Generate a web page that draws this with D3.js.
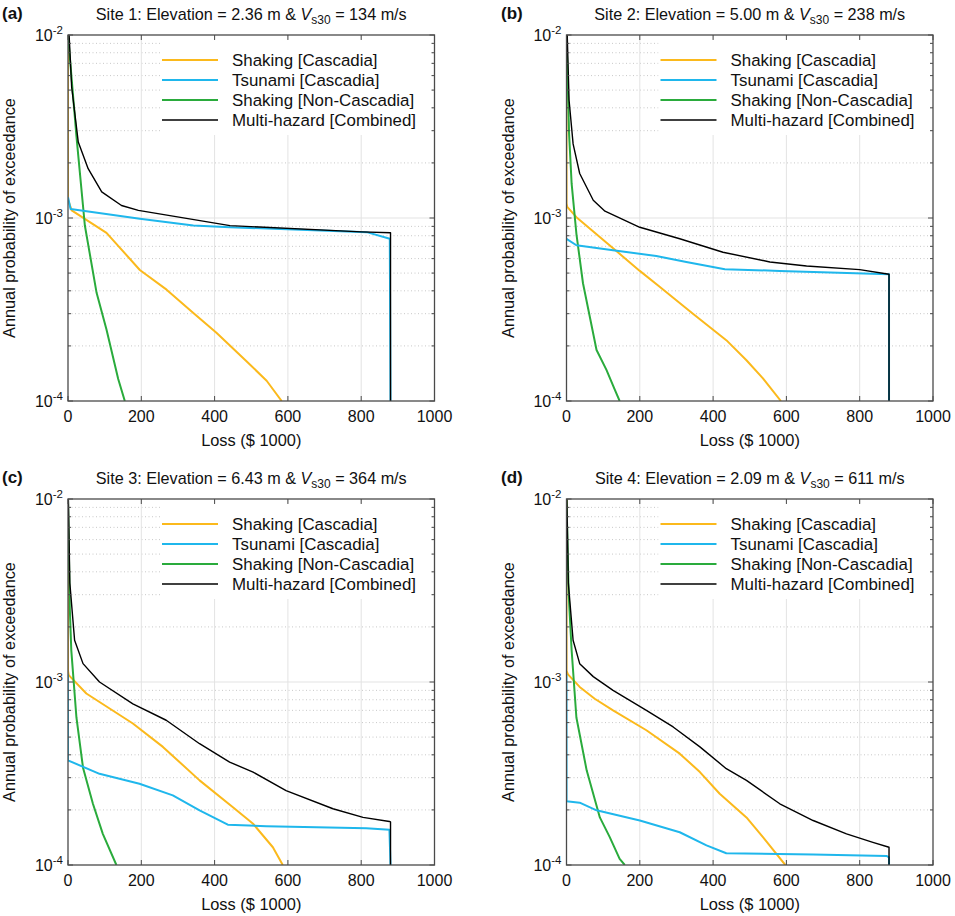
<!DOCTYPE html>
<html>
<head>
<meta charset="utf-8">
<script src="https://cdn.jsdelivr.net/npm/d3@7"></script>
<style>
  body { margin: 0; background: #fff; }
  svg { font-family: "Liberation Sans", Arial, Helvetica, sans-serif; }
</style>
</head>
<body>
<svg id="chart" width="955" height="916"></svg>
<script>
// loss in $1000, probability = annual probability of exceedance
const seriesNames = ["Shaking [Cascadia]", "Tsunami [Cascadia]", "Shaking [Non-Cascadia]", "Multi-hazard [Combined]"];
const seriesColors = ["#fbb91c", "#1fb7ec", "#2aab3c", "#000000"];
const seriesWidths = [2, 2, 2, 1.4];

const panelLetters = ["(a)", "(b)", "(c)", "(d)"];
const siteNames = ["Site 1", "Site 2", "Site 3", "Site 4"];
const elevations = ["2.36", "5.00", "6.43", "2.09"];
const vs30 = ["134", "238", "364", "611"];

const xTicks = [0, 200, 400, 600, 800, 1000];
const yTicks = [1e-2, 1e-3, 1e-4];
const yTickExp = ["-2", "-3", "-4"];

// Site 1
const site1Shaking = [[0,1e-2],[0,1.26e-3],[10,1.1e-3],[105,8.3e-4],[196,5.2e-4],[269,4.06e-4],[342,3.03e-4],[405,2.36e-4],[487,1.65e-4],[542,1.29e-4],[583,1e-4]];
const site1Tsunami = [[0,1.3e-3],[7,1.12e-3],[196,9.9e-4],[342,9.1e-4],[442,8.9e-4],[815,8.37e-4],[878,7.7e-4],[880,1e-4]];
const site1NonCas = [[0,1e-2],[23,2.8e-3],[46,9.1e-4],[78,3.9e-4],[105,2.46e-4],[137,1.32e-4],[155,1e-4]];
const site1Combined = [[3,1e-2],[10,5.2e-3],[28,2.6e-3],[55,1.86e-3],[92,1.39e-3],[146,1.17e-3],[192,1.1e-3],[442,9.08e-4],[801,8.4e-4],[880,8.3e-4],[880,1e-4]];

// Site 2
const site2Shaking = [[0,1e-2],[0,1.2e-3],[2,1.15e-3],[27,1.01e-3],[136,6.6e-4],[200,5.14e-4],[255,4.2e-4],[345,3.0e-4],[436,2.15e-4],[491,1.67e-4],[536,1.33e-4],[585,1e-4]];
const site2Tsunami = [[0,7.7e-4],[27,7.1e-4],[127,6.67e-4],[245,6.2e-4],[327,5.75e-4],[432,5.25e-4],[582,5.14e-4],[880,4.93e-4],[880,1e-4]];
const site2NonCas = [[0,1e-2],[7,2.9e-3],[14,1.54e-3],[27,8.2e-4],[45,4.4e-4],[82,1.9e-4],[109,1.48e-4],[132,1.15e-4],[145,1e-4]];
const site2Combined = [[2,1e-2],[7,4.4e-3],[18,2.54e-3],[36,1.75e-3],[73,1.25e-3],[105,1.09e-3],[200,8.9e-4],[309,7.7e-4],[427,6.5e-4],[555,5.75e-4],[655,5.47e-4],[800,5.22e-4],[880,4.93e-4],[880,1e-4]];

// Site 3
const site3Shaking = [[0,1e-2],[0,1.15e-3],[2,1.09e-3],[50,8.65e-4],[177,5.93e-4],[259,4.42e-4],[359,2.9e-4],[450,2.07e-4],[505,1.68e-4],[559,1.25e-4],[586,1e-4]];
const site3Tsunami = [[0,1.1e-3],[0,3.73e-4],[86,3.15e-4],[195,2.78e-4],[286,2.4e-4],[359,1.99e-4],[436,1.66e-4],[541,1.63e-4],[814,1.59e-4],[877,1.56e-4],[880,1e-4]];
const site3NonCas = [[0,1e-2],[5,2.5e-3],[9,1.49e-3],[23,6.4e-4],[41,3.4e-4],[68,2.16e-4],[95,1.48e-4],[132,1e-4]];
const site3Combined = [[1,1e-2],[5,3.47e-3],[18,1.69e-3],[41,1.26e-3],[86,1e-3],[177,7.6e-4],[268,6.18e-4],[359,4.6e-4],[441,3.65e-4],[505,3.22e-4],[595,2.55e-4],[723,2.03e-4],[805,1.82e-4],[877,1.73e-4],[880,1.72e-4],[880,1e-4]];

// Site 4
const site4Shaking = [[0,1e-2],[0,1.15e-3],[4,1.1e-3],[36,9.4e-4],[77,8.1e-4],[127,7.0e-4],[218,5.45e-4],[309,4.06e-4],[364,3.22e-4],[418,2.45e-4],[491,1.82e-4],[536,1.42e-4],[597,1e-4]];
const site4Tsunami = [[0,1.1e-3],[0,2.23e-4],[36,2.19e-4],[82,1.99e-4],[200,1.75e-4],[309,1.51e-4],[382,1.28e-4],[436,1.16e-4],[673,1.14e-4],[873,1.12e-4],[880,1.1e-4],[880,1e-4]];
const site4NonCas = [[0,1e-2],[6,3e-3],[14,1.49e-3],[27,6.4e-4],[55,3.29e-4],[91,1.82e-4],[118,1.42e-4],[145,1.08e-4],[159,1e-4]];
const site4Combined = [[1,1e-2],[5,3.47e-3],[18,1.69e-3],[36,1.26e-3],[73,1.07e-3],[127,9.0e-4],[218,7.0e-4],[291,5.68e-4],[364,4.42e-4],[436,3.36e-4],[491,2.9e-4],[582,2.16e-4],[673,1.75e-4],[764,1.48e-4],[836,1.33e-4],[880,1.25e-4],[880,1e-4]];

const sites = [
    [site1Shaking, site1Tsunami, site1NonCas, site1Combined],
    [site2Shaking, site2Tsunami, site2NonCas, site2Combined],
    [site3Shaking, site3Tsunami, site3NonCas, site3Combined],
    [site4Shaking, site4Tsunami, site4NonCas, site4Combined]
];

// layout
const plotW = 366.5;
const plotH = 366;
const plotLefts = [68, 566.5];
const plotTops = [35, 499];
const axisColor = "#4a4a4a";
const fs = 16;

const svg = d3.select("#chart");

const x = d3.scaleLinear().domain([0, 1000]).range([0, plotW]);
const y = d3.scaleLog().domain([1e-4, 1e-2]).range([plotH, 0]);

// minor log ticks 2..9 in each decade
const minorTicks = [];
[1e-4, 1e-3].forEach(dec => {
    for (let k = 2; k <= 9; k++) minorTicks.push(dec * k);
});

function drawPanel(i) {
    const col = i % 2;
    const row = Math.floor(i / 2);
    const g = svg.append("g")
        .attr("transform", `translate(${plotLefts[col]},${plotTops[row]})`);

    g.append("clipPath").attr("id", "clip" + i)
        .append("rect").attr("width", plotW).attr("height", plotH);

    // minor grid (dotted)
    g.append("g").selectAll("line")
        .data(minorTicks)
        .enter().append("line")
        .attr("x1", 0).attr("x2", plotW)
        .attr("y1", d => y(d)).attr("y2", d => y(d))
        .attr("stroke", "#c8c8c8")
        .attr("stroke-width", 1)
        .attr("stroke-dasharray", "1,2.5");

    // major grid
    g.append("g").selectAll("line")
        .data(xTicks.slice(1, -1))
        .enter().append("line")
        .attr("x1", d => x(d)).attr("x2", d => x(d))
        .attr("y1", 0).attr("y2", plotH)
        .attr("stroke", "#e3e3e3")
        .attr("stroke-width", 1);
    g.append("line")
        .attr("x1", 0).attr("x2", plotW)
        .attr("y1", y(1e-3)).attr("y2", y(1e-3))
        .attr("stroke", "#e3e3e3")
        .attr("stroke-width", 1);

    // legend background (hides grid behind it)
    g.append("rect")
        .attr("x", 92).attr("y", 4)
        .attr("width", plotW - 96).attr("height", 96)
        .attr("fill", "white");

    // curves
    const line = d3.line()
        .x(d => x(d[0]))
        .y(d => y(d[1]));

    const curves = g.append("g").attr("clip-path", `url(#clip${i})`);
    [0, 2, 1, 3].forEach(s => {
        curves.append("path")
            .datum(sites[i][s])
            .attr("d", line)
            .attr("fill", "none")
            .attr("stroke", seriesColors[s])
            .attr("stroke-width", seriesWidths[s])
            .attr("stroke-linejoin", "round");
    });

    // legend
    const legend = g.append("g").attr("transform", "translate(94,25)");
    seriesNames.forEach((name, s) => {
        legend.append("line")
            .attr("x1", 0).attr("x2", 56)
            .attr("y1", s * 20).attr("y2", s * 20)
            .attr("stroke", seriesColors[s])
            .attr("stroke-width", seriesWidths[s]);
        legend.append("text")
            .attr("x", 70).attr("y", s * 20)
            .attr("dy", "0.36em")
            .attr("font-size", 16.9)
            .attr("fill", "#111")
            .text(name);
    });

    // box
    g.append("rect")
        .attr("width", plotW).attr("height", plotH)
        .attr("fill", "none")
        .attr("stroke", axisColor)
        .attr("stroke-width", 1.3);

    // ticks (inward, both sides)
    const tickG = g.append("g").attr("stroke", axisColor).attr("stroke-width", 1);
    xTicks.forEach(t => {
        tickG.append("line").attr("x1", x(t)).attr("x2", x(t)).attr("y1", plotH).attr("y2", plotH - 5);
        tickG.append("line").attr("x1", x(t)).attr("x2", x(t)).attr("y1", 0).attr("y2", 5);
    });
    yTicks.forEach(t => {
        tickG.append("line").attr("x1", 0).attr("x2", 5).attr("y1", y(t)).attr("y2", y(t));
        tickG.append("line").attr("x1", plotW).attr("x2", plotW - 5).attr("y1", y(t)).attr("y2", y(t));
    });
    minorTicks.forEach(t => {
        tickG.append("line").attr("x1", 0).attr("x2", 3).attr("y1", y(t)).attr("y2", y(t));
        tickG.append("line").attr("x1", plotW).attr("x2", plotW - 3).attr("y1", y(t)).attr("y2", y(t));
    });

    // x tick labels
    g.append("g").selectAll("text")
        .data(xTicks)
        .enter().append("text")
        .attr("x", d => x(d))
        .attr("y", plotH + 21)
        .attr("text-anchor", "middle")
        .attr("font-size", fs)
        .attr("fill", "#111")
        .text(d => d);

    // y tick labels: 10^k
    yTicks.forEach((t, k) => {
        const lbl = g.append("text")
            .attr("x", -5)
            .attr("y", y(t) + 6)
            .attr("text-anchor", "end")
            .attr("font-size", fs)
            .attr("fill", "#111");
        lbl.append("tspan").text("10");
        lbl.append("tspan")
            .attr("dy", -7)
            .attr("font-size", 11.5)
            .text(yTickExp[k]);
    });

    // axis labels
    g.append("text")
        .attr("x", plotW / 2)
        .attr("y", plotH + 45)
        .attr("text-anchor", "middle")
        .attr("font-size", 16.4)
        .attr("fill", "#111")
        .text("Loss ($ 1000)");

    g.append("text")
        .attr("transform", `translate(-53,${plotH / 2}) rotate(-90)`)
        .attr("text-anchor", "middle")
        .attr("font-size", 16.3)
        .attr("fill", "#111")
        .text("Annual probability of exceedance");

    // title
    const title = g.append("text")
        .attr("x", plotW / 2)
        .attr("y", -15)
        .attr("text-anchor", "middle")
        .attr("font-size", 16.2)
        .attr("fill", "#111");
    title.append("tspan").text(`${siteNames[i]}: Elevation = ${elevations[i]} m & `);
    title.append("tspan").attr("font-style", "italic").text("V");
    title.append("tspan").attr("font-size", 12).attr("dy", 4).text("s30");
    title.append("tspan").attr("dy", -4).text(` = ${vs30[i]} m/s`);

    // panel letter
    svg.append("text")
        .attr("x", col === 0 ? 2 : 501)
        .attr("y", plotTops[row] - 16)
        .attr("font-size", fs + 1)
        .attr("font-weight", "bold")
        .attr("fill", "#111")
        .text(panelLetters[i]);
}

for (let i = 0; i < 4; i++) drawPanel(i);
</script>
</body>
</html>
